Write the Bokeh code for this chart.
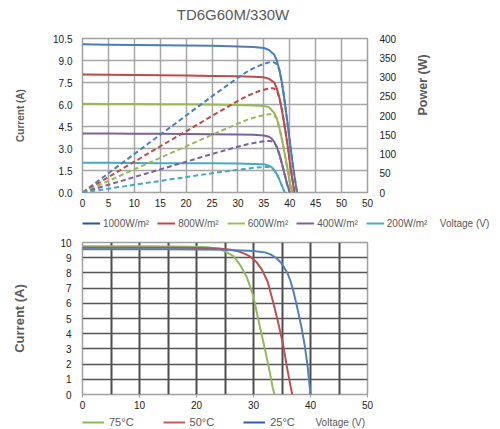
import math
from bokeh.plotting import figure
from bokeh.models import Range1d, LinearAxis, FixedTicker, Legend, LegendItem, Label
from bokeh.layouts import column
from bokeh.embed import file_html
from bokeh.resources import INLINE

FONT = "Liberation Sans"
NAN = float("nan")

# ---------------- data: top chart (irradiance) ----------------
title_text = "TD6G60M/330W"
x_ticks_top = [0, 5, 10, 15, 20, 25, 30, 35, 40, 45, 50, 55]
x_labels_top = ["0", "5", "10", "15", "20", "25", "30", "35", "40", "45", "50", "50"]
i_ticks_top = [0, 1.5, 3.0, 4.5, 6.0, 7.5, 9.0, 10.5]
i_labels_top = ["0.0", "1.5", "3.0", "4.5", "6.0", "7.5", "9.0", "10.5"]
p_ticks_top = [0, 50, 100, 150, 200, 250, 300, 350, 400]
p_labels_top = ["0", "50", "100", "150", "200", "250", "300", "350", "400"]

series_names = ["1000W/m²", "800W/m²", "600W/m²", "400W/m²", "200W/m²"]

V1000 = [0, 5, 10, 15, 20, 25, 30, 33, 35, 36, 37, 37.5, 38, 38.5, 39, 39.5, 40, 40.5, 41, 41.4]
I1000 = [10.10, 10.08, 10.06, 10.04, 10.02, 10.00, 9.96, 9.92, 9.85, 9.72, 9.40, 9.00, 8.35, 7.45, 6.25, 4.90, 3.50, 2.10, 0.90, 0.0]
VP1000 = [0, 5, 10, 15, 20, 25, 30, 32, 34, 35, 36, 36.5, 37, 37.5, 38, 38.5, 39, 39.5, 40, 40.5, 41, 41.4]
P1000 = [0, 50, 100, 150, 200, 250, 298, 316, 329, 334, 338, 339, 338, 333, 318, 284, 238, 187, 133, 80, 34, 0]

V800 = [0, 5, 10, 15, 20, 25, 30, 33, 35, 36, 37, 37.5, 38, 38.5, 39, 39.5, 40, 40.5, 40.9]
I800 = [8.05, 8.03, 8.01, 7.99, 7.97, 7.95, 7.93, 7.90, 7.85, 7.75, 7.50, 7.10, 6.45, 5.60, 4.55, 3.40, 2.10, 0.90, 0.0]
VP800 = [0, 5, 10, 15, 20, 25, 30, 32, 34, 35, 36, 36.5, 37, 37.5, 38, 38.5, 39, 39.5, 40, 40.5, 40.9]
P800 = [0, 40, 80, 120, 159, 199, 238, 252, 263, 267, 270, 271, 270, 265, 246, 213, 173, 130, 80, 34, 0]

V600 = [0, 5, 10, 15, 20, 25, 30, 33, 35, 36, 37, 37.5, 38, 38.5, 39, 39.5, 40, 40.5]
I600 = [6.05, 6.04, 6.03, 6.02, 6.01, 6.00, 5.97, 5.94, 5.90, 5.82, 5.42, 5.05, 4.40, 3.60, 2.70, 1.70, 0.70, 0.0]
VP600 = [0, 5, 10, 15, 20, 25, 30, 32, 34, 35, 36, 36.5, 37, 37.5, 38, 38.5, 39, 39.5, 40, 40.5]
P600 = [0, 30, 60, 90, 120, 150, 179, 190, 198, 201, 203, 203, 200, 192, 168, 137, 103, 65, 27, 0]

V400 = [0, 5, 10, 15, 20, 25, 30, 33, 35, 36, 36.5, 37, 37.5, 38, 38.5, 39, 39.5, 40]
I400 = [4.03, 4.02, 4.01, 4.00, 3.99, 3.98, 3.96, 3.93, 3.89, 3.80, 3.68, 3.45, 3.10, 2.60, 1.95, 1.25, 0.55, 0.0]
VP400 = [0, 5, 10, 15, 20, 25, 30, 32, 34, 35, 35.5, 36, 36.5, 37, 37.5, 38, 38.5, 39, 39.5, 40]
P400 = [0, 20, 40, 60, 80, 100, 119, 126, 131, 133, 134, 134, 133, 130, 118, 99, 74, 48, 21, 0]

V200 = [0, 5, 10, 15, 20, 25, 30, 33, 35, 36, 36.5, 37, 37.5, 38, 38.5, 39]
I200 = [2.03, 2.02, 2.01, 2.00, 2.00, 1.99, 1.97, 1.95, 1.92, 1.83, 1.72, 1.52, 1.25, 0.88, 0.45, 0.0]
VP200 = [0, 5, 10, 15, 20, 25, 30, 33, 35, 36, 36.5, 37, 37.5, 38, 38.5, 39]
P200 = [0, 10, 20, 30, 40, 50, 59, 64, 66, 66, 64, 58, 48, 34, 17, 0]

# ---------------- data: bottom chart (temperature) ----------------
x_grid_bot = [0, 5, 10, 15, 20, 25, 30, 35, 40, 45, 50]
x_ticks_bot = [0, 10, 20, 30, 40, 50]
x_labels_bot = ["0", "10", "20", "30", "40", "50"]
y_ticks_bot = [0, 1, 2, 3, 4, 5, 6, 7, 8, 9, 10]
y_labels_bot = ["0", "1", "2", "3", "4", "5", "6", "7", "8", "9", "10"]
temp_names = ["75°C", "50°C", "25°C"]

V75 = [0, 5, 10, 15, 20, 22, 24, 25, 26.5, 27.6, 28.8, 30, 30.8, 31.7, 32.6, 33.4, 33.7]
I75 = [9.75, 9.75, 9.75, 9.74, 9.72, 9.68, 9.57, 9.42, 9.10, 8.55, 7.75, 6.45, 5.00, 3.50, 1.95, 0.40, 0.0]
V50 = [0, 5, 10, 15, 20, 24, 26, 27.5, 28.5, 29.5, 30.5, 31.5, 32.5, 33.5, 34.5, 35.2, 35.9, 36.5, 36.8]
I50 = [9.66, 9.66, 9.66, 9.65, 9.64, 9.60, 9.52, 9.40, 9.25, 9.05, 8.72, 8.20, 7.40, 6.00, 4.45, 3.27, 1.73, 0.55, 0.0]
V25 = [0, 5, 10, 15, 20, 25, 28, 30, 32, 33, 34, 35, 36, 36.5, 37, 37.5, 38, 38.5, 39, 39.5, 40]
I25 = [9.56, 9.56, 9.55, 9.55, 9.54, 9.52, 9.48, 9.44, 9.35, 9.22, 8.98, 8.60, 7.95, 7.45, 6.80, 6.00, 5.15, 4.25, 3.20, 1.85, 0.0]

# ---------------- styling ----------------
curve_cols = ["#4a7ebb", "#be4b48", "#98b954", "#7d60a0", "#46aac5"]
legend_cols = ["#2a52a3", "#c94444", "#9bc25a", "#7c5ea8", "#4cb0c9"]
temp_cols = ["#93b95a", "#c0504d", "#4f81bd"]
temp_legend_cols = ["#7dc243", "#c65a58", "#2e5cab"]
GRAY = "#595959"
TICK = "#222222"
W = 500
BL, BR = 82, 133


def style_axis(ax, ticks, labels, standoff):
    ax.ticker = FixedTicker(ticks=ticks)
    ax.major_label_overrides = {t: l for t, l in zip(ticks, labels)}
    ax.major_tick_in = 0
    ax.major_tick_out = 0
    ax.minor_tick_in = 0
    ax.minor_tick_out = 0
    ax.axis_line_color = None
    ax.major_label_standoff = standoff
    ax.major_label_text_font = FONT
    ax.major_label_text_font_size = "10px"
    ax.major_label_text_color = TICK


def strip(h):
    s = figure(frame_width=W, frame_height=h, output_backend="svg", toolbar_location=None,
               x_range=Range1d(0, W), y_range=Range1d(0, h),
               x_axis_type=None, y_axis_type=None,
               min_border_left=0, min_border_right=0, min_border_top=0, min_border_bottom=0)
    try:
        s.frame_align = False
    except Exception:
        pass
    s.outline_line_color = None
    s.grid.visible = False
    return s


def make_legend(items, loc, glyph_w, standoff, spacing, size):
    return Legend(items=items, orientation="horizontal", location=loc,
                  glyph_width=glyph_w, glyph_height=12, label_height=12, label_standoff=standoff,
                  spacing=spacing, padding=0, margin=0, border_line_color=None,
                  background_fill_alpha=0, label_text_font=FONT,
                  label_text_font_size=size, label_text_color=GRAY)


# ---------------- header (title) ----------------
head = strip(30)
head.add_layout(Label(x=232.5, y=16.2, text=title_text, text_font=FONT, text_font_size="15px",
                      text_color=GRAY, text_baseline="middle", text_align="center"))

# ---------------- top figure ----------------
top = figure(width=W, height=182, output_backend="svg", toolbar_location=None,
             x_range=Range1d(0, 55), y_range=Range1d(0, 10.5),
             min_border_left=BL, min_border_right=BR, min_border_top=8, min_border_bottom=20)
top.extra_y_ranges = {"pow": Range1d(0, 400)}
top.outline_line_color = "#a0a0a0"
top.outline_line_width = 1.5

style_axis(top.xaxis[0], x_ticks_top, x_labels_top, 6)
style_axis(top.yaxis[0], i_ticks_top, i_labels_top, 10)
top.yaxis[0].axis_label = "Current (A)"
top.yaxis[0].axis_label_text_font = FONT
top.yaxis[0].axis_label_text_font_size = "10px"
top.yaxis[0].axis_label_text_font_style = "bold"
top.yaxis[0].axis_label_text_color = GRAY
top.yaxis[0].axis_label_standoff = 24

rax = LinearAxis(y_range_name="pow")
style_axis(rax, p_ticks_top, p_labels_top, 12)
rax.axis_label = "Power (W)"
rax.axis_label_text_font = FONT
rax.axis_label_text_font_size = "12.5px"
rax.axis_label_text_font_style = "bold"
rax.axis_label_text_color = GRAY
rax.axis_label_standoff = 24
try:
    rax.axis_label_orientation = math.pi / 2
except Exception:
    pass
top.add_layout(rax, "right")

top.xgrid.ticker = FixedTicker(ticks=x_ticks_top)
top.ygrid.ticker = FixedTicker(ticks=i_ticks_top)
for g in (top.xgrid, top.ygrid):
    g.grid_line_color = "#a6a6a6"
    g.grid_line_width = 1.5

iv_sets = [(V1000, I1000), (V800, I800), (V600, I600), (V400, I400), (V200, I200)]
pv_sets = [(VP1000, P1000), (VP800, P800), (VP600, P600), (VP400, P400), (VP200, P200)]
for (vx, iy), col in zip(iv_sets, curve_cols):
    top.line(vx, iy, line_color=col, line_width=2)
for (vx, py), col in zip(pv_sets, curve_cols):
    top.line(vx, py, line_color=col, line_width=2, line_dash="5 3", y_range_name="pow")

# ---------------- legend strip for top chart ----------------
leg1 = strip(20)
items = []
for name, col in zip(series_names, legend_cols):
    r = leg1.line([NAN], [NAN], line_color=col, line_width=2)
    items.append(LegendItem(label=name, renderers=[r]))
leg1.add_layout(make_legend(items, (82, 3), 18, 3, 8, "10px"))
leg1.add_layout(Label(x=439.3, y=9, text="Voltage (V)", text_font=FONT, text_font_size="10px",
                      text_color=GRAY, text_baseline="middle", text_align="left"))

# ---------------- bottom figure ----------------
bot = figure(width=W, height=181, output_backend="svg", toolbar_location=None,
             x_range=Range1d(0, 50), y_range=Range1d(0, 10),
             min_border_left=BL, min_border_right=BR, min_border_top=10, min_border_bottom=19)
bot.outline_line_color = "#a0a0a0"
bot.outline_line_width = 1.5
style_axis(bot.xaxis[0], x_ticks_bot, x_labels_bot, 3)
bot.xaxis[0].major_tick_out = 3
bot.xaxis[0].major_tick_line_color = "#a0a0a0"
bot.xaxis[0].major_tick_line_width = 1
style_axis(bot.yaxis[0], y_ticks_bot, y_labels_bot, 11)
bot.yaxis[0].axis_label = "Current (A)"
bot.yaxis[0].axis_label_text_font = FONT
bot.yaxis[0].axis_label_text_font_size = "13px"
bot.yaxis[0].axis_label_text_font_style = "bold"
bot.yaxis[0].axis_label_text_color = GRAY
bot.yaxis[0].axis_label_standoff = 30

bot.xgrid.ticker = FixedTicker(ticks=x_grid_bot)
bot.ygrid.ticker = FixedTicker(ticks=y_ticks_bot)
bot.xgrid.grid_line_color = "#4d4d4d"
bot.xgrid.grid_line_width = 2
bot.ygrid.grid_line_color = "#555555"
bot.ygrid.grid_line_width = 1.5

for (vx, iy), col in zip([(V75, I75), (V50, I50), (V25, I25)], temp_cols):
    bot.line(vx, iy, line_color=col, line_width=2)

# ---------------- legend strip for bottom chart ----------------
leg2 = strip(16)
titems = []
for name, col in zip(temp_names, temp_legend_cols):
    r = leg2.line([NAN], [NAN], line_color=col, line_width=2)
    titems.append(LegendItem(label=name, renderers=[r]))
leg2.add_layout(make_legend(titems, (82, 1), 22, 5, 29, "11px"))
leg2.add_layout(Label(x=315, y=7.3, text="Voltage (V)", text_font=FONT, text_font_size="10px",
                      text_color=GRAY, text_baseline="middle", text_align="left"))

layout = column(head, top, leg1, bot, leg2, spacing=0)
open("out.html", "w").write(file_html(layout, INLINE))
